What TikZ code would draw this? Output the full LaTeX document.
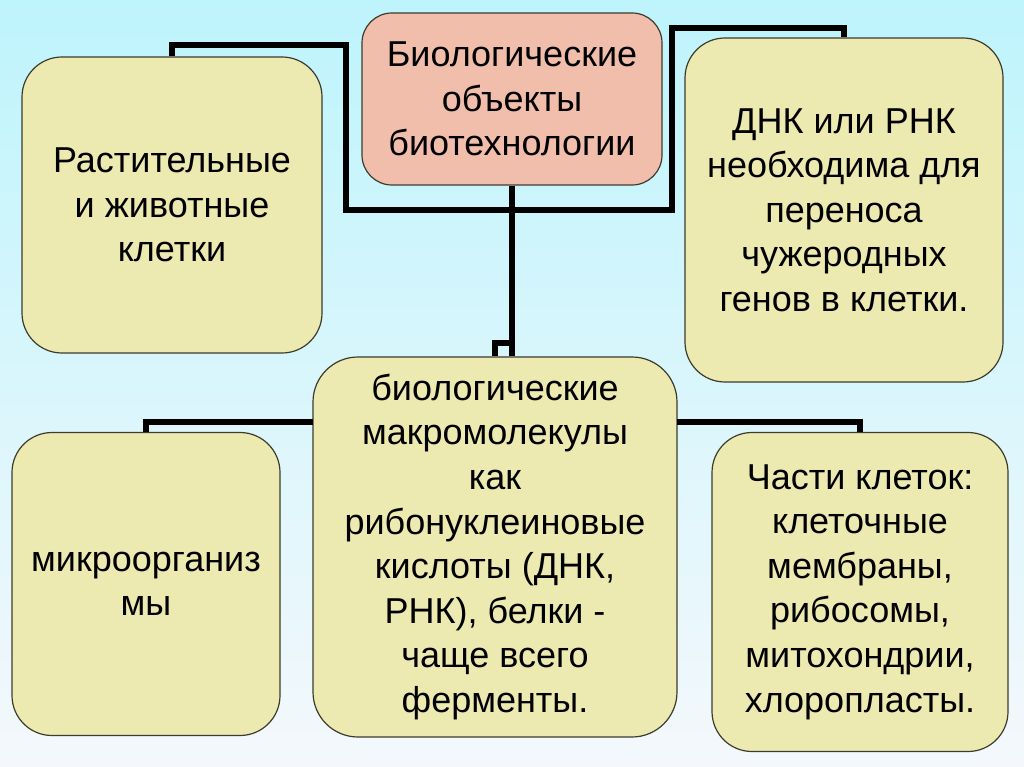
\documentclass[tikz,border=0pt]{standalone}
\usepackage{fontspec}
\setmainfont{Liberation Sans}
\definecolor{bgtop}{RGB}{190,244,252}
\definecolor{bgbot}{RGB}{244,248,252}
\definecolor{boxfill}{RGB}{236,234,176}
\definecolor{pinkfill}{RGB}{242,190,172}
\definecolor{boxline}{RGB}{60,60,45}

\begin{document}
\begin{tikzpicture}[x=1pt,y=-1pt,
  box/.style={draw=boxline,line width=1.2pt,fill=boxfill,rounded corners=40pt,
    align=center,inner sep=0pt,font=\fontsize{36}{44.6}\selectfont},
  link/.style={line width=6pt,draw=black}]
\shade[top color=bgtop,bottom color=bgbot] (0,0) rectangle (1024,767);
% boxes
\node[box,fill=pinkfill,rounded corners=30pt,minimum width=300pt,minimum height=172pt] (bio) at (512,99)
  {Биологические\\объекты\\биотехнологии};
\node[box,minimum width=300pt,minimum height=296pt] (cells) at (172,205)
  {Растительные\\и животные\\клетки};
\node[box,minimum width=318pt,minimum height=344pt] (dna) at (844,210)
  {ДНК или РНК\\необходима для\\переноса\\чужеродных\\генов в клетки.};
\node[box,minimum width=268pt,minimum height=303pt] (micro) at (146,584)
  {микроорганиз\\мы};
\node[box,rounded corners=45pt,minimum width=364pt,minimum height=380pt] (macro) at (495,547)
  {биологические\\макромолекулы\\как\\рибонуклеиновые\\кислоты (ДНК,\\РНК), белки -\\чаще всего\\ферменты.};
\node[box,minimum width=296pt,minimum height=319pt] (parts) at (860,592)
  {Части клеток:\\клеточные\\мембраны,\\рибосомы,\\митохондрии,\\хлоропласты.};
% connectors
\coordinate (jT) at (512,210);
\coordinate (jL) at (313,422);
\coordinate (jR) at (677,422);
\draw[link] (cells.north) |- (346,45) |- (jT);
\draw[link] (jT) -| (672,28) -| (dna.north);
\draw[link] (bio.south) -- (bio.south |- macro.north);
\draw[link] (512,343) -| (macro.north);
\draw[link] (micro.north) |- (jL);
\draw[link] (jR) -| (parts.north);
\end{tikzpicture}
\end{document}
